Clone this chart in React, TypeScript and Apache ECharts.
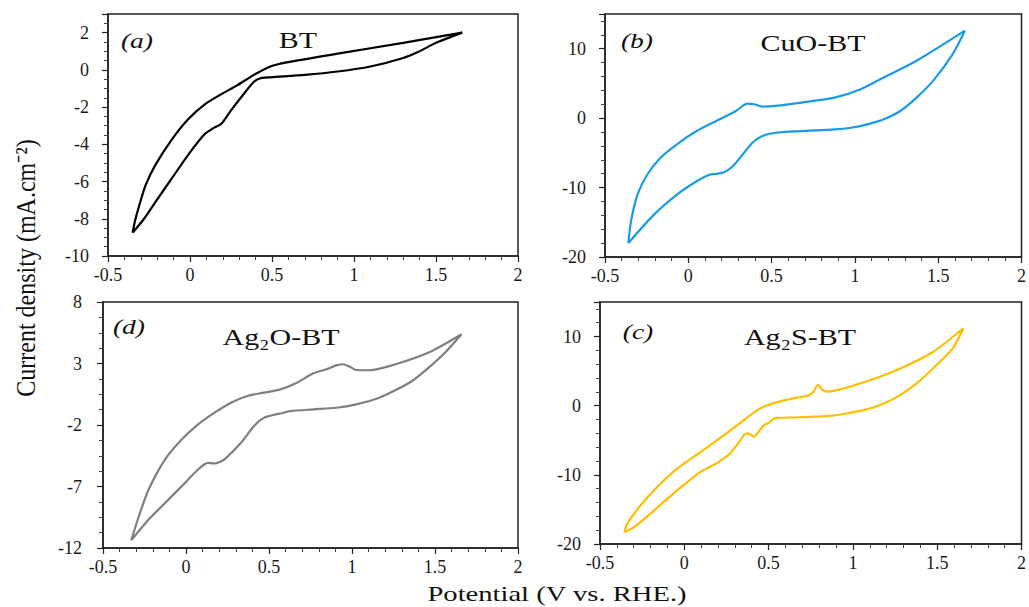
import React, { useEffect, useRef } from "react";
import * as echarts from "echarts";

// ---------- data (potential V vs RHE, current density mA/cm2) ----------
const btForward: number[][] = [
  [-0.35, -8.75], [-0.335, -8.1], [-0.31, -7.3], [-0.27, -6.18], [-0.21, -5.09],
  [-0.11, -3.73], [-0.01, -2.64], [0.09, -1.85], [0.19, -1.31], [0.29, -0.82],
  [0.39, -0.27], [0.49, 0.18], [0.59, 0.4], [0.9, 0.87], [1.3, 1.45], [1.66, 2.0],
];
const btReverse: number[][] = [
  [1.5, 1.45], [1.4, 1.0], [1.3, 0.64], [1.1, 0.18], [0.9, -0.09], [0.7, -0.27],
  [0.49, -0.4], [0.43, -0.45], [0.39, -0.64], [0.33, -1.27], [0.25, -2.18],
  [0.19, -2.91], [0.15, -3.09], [0.09, -3.45], [-0.01, -4.55], [-0.11, -5.82],
  [-0.21, -7.09], [-0.28, -8.0], [-0.35, -8.75],
];

const cuoForward: number[][] = [
  [-0.36, -18.0], [-0.344, -14.87], [-0.305, -11.01], [-0.246, -8.12], [-0.167, -5.71],
  [-0.068, -3.78], [0.05, -1.86], [0.188, -0.17], [0.286, 1.03], [0.326, 1.76],
  [0.355, 2.09], [0.395, 2.0], [0.444, 1.66], [0.523, 1.76], [0.68, 2.24],
  [0.878, 2.96], [1.035, 4.17], [1.173, 5.85], [1.37, 8.26], [1.66, 12.6],
];
const cuoReverse: number[][] = [
  [1.587, 9.23], [1.469, 5.37], [1.37, 2.96], [1.272, 1.03], [1.173, -0.17],
  [1.075, -0.89], [0.976, -1.38], [0.878, -1.62], [0.68, -1.86], [0.523, -2.1],
  [0.444, -2.58], [0.385, -3.54], [0.326, -5.23], [0.267, -6.92], [0.218, -7.74],
  [0.168, -8.03], [0.129, -8.12], [0.05, -9.09], [-0.068, -11.01], [-0.206, -13.9],
  [-0.36, -18.0],
];

const ag2oForward: number[][] = [
  [-0.33, -11.38], [-0.284, -9.42], [-0.225, -7.25], [-0.126, -4.8], [-0.026, -3.18],
  [0.073, -1.95], [0.172, -1.0], [0.271, -0.19], [0.37, 0.36], [0.47, 0.63],
  [0.569, 0.9], [0.668, 1.44], [0.767, 2.2], [0.847, 2.53], [0.906, 2.85],
  [0.946, 2.94], [0.985, 2.75], [1.025, 2.47], [1.104, 2.45], [1.263, 2.94],
  [1.462, 3.89], [1.66, 5.38],
];
const ag2oReverse: number[][] = [
  [1.561, 3.89], [1.462, 2.66], [1.362, 1.58], [1.263, 0.84], [1.164, 0.22],
  [1.025, -0.32], [0.906, -0.6], [0.767, -0.73], [0.628, -0.87], [0.589, -1.0],
  [0.47, -1.41], [0.41, -2.09], [0.331, -3.45], [0.231, -4.8], [0.172, -5.13],
  [0.132, -5.08], [0.073, -5.62], [-0.026, -6.98], [-0.126, -8.34], [-0.225, -9.69],
  [-0.33, -11.38],
];

const ag2sForward: number[][] = [
  [-0.355, -18.3], [-0.339, -17.09], [-0.26, -14.44], [-0.162, -11.79], [-0.044, -9.14],
  [0.094, -6.73], [0.232, -4.32], [0.35, -2.15], [0.429, -0.71], [0.488, 0.02],
  [0.586, 0.74], [0.685, 1.22], [0.734, 1.46], [0.763, 1.95], [0.793, 3.01],
  [0.818, 2.33], [0.842, 2.04], [0.921, 2.33], [1.078, 3.49], [1.275, 5.32],
  [1.472, 7.73], [1.655, 11.2],
];
const ag2sReverse: number[][] = [
  [1.59, 8.21], [1.472, 5.32], [1.374, 3.15], [1.275, 1.46], [1.177, 0.26],
  [1.078, -0.56], [0.98, -1.04], [0.882, -1.43], [0.685, -1.67], [0.547, -1.77],
  [0.527, -1.95], [0.5, -2.5], [0.478, -2.75], [0.455, -3.3], [0.43, -4.1],
  [0.413, -4.5], [0.395, -4.2], [0.375, -4.0], [0.355, -4.2], [0.33, -5.1],
  [0.271, -6.9], [0.192, -8.3], [0.094, -9.6], [-0.005, -11.5], [-0.103, -13.5],
  [-0.201, -15.6], [-0.3, -17.6], [-0.355, -18.3],
];

const panelNames = ["BT", "CuO-BT", "Ag₂O-BT", "Ag₂S-BT"];
const panelTags = ["(a)", "(b)", "(d)", "(c)"];
const xTickLabels = [-0.5, 0, 0.5, 1, 1.5, 2];
const ag2oYTicks = [-12, -7, -2, 3, 8];
const ag2oYMinorTicks = [
  -10.75, -9.5, -8.25, -5.75, -4.5, -3.25, -0.75, 0.5, 1.75, 4.25, 5.5, 6.75,
];
const xTitle = "Potential (V vs. RHE.)";
const yTitle = "Current density (mA.cm⁻²)";

// ---------- styles / layout ----------
const FONT = '"Liberation Serif", serif';
const COLORS = ["#000000", "#1a9be6", "#7f7f7f", "#ffbf00"];
const GRIDS = [
  { left: 108, top: 14, width: 410, height: 242 },
  { left: 605, top: 14, width: 421, height: 243 },
  { left: 103, top: 302, width: 415, height: 246 },
  { left: 600, top: 302, width: 422, height: 242 },
];
const TAG_POS = [[137, 40], [637, 40], [129, 326], [638, 331]];
const NAME_POS = [[298, 40], [813, 43], [281, 337], [800, 337]];

export default function App() {
  const ref = useRef<HTMLDivElement>(null);

  useEffect(() => {
    if (!ref.current) return;
    const chart = echarts.init(ref.current, undefined, { renderer: "svg" });

    const axisLine = { show: true, onZero: false, lineStyle: { color: "#222", width: 1.5 } };
    const tickText = {
      fontFamily: "Liberation Serif",
      fontSize: 18,
      color: "#1a1a1a",
    };
    const labelStyle = {
      show: true,
      ...tickText,
      formatter: (v: number) => `{t|${v}}`,
      rich: { t: { ...tickText } },
    };
    const majorTick = { show: true, inside: false, length: 6, lineStyle: { color: "#222", width: 1.2 } };
    const minorStyle = { color: "#444", width: 1 };

    const xAxes = GRIDS.map((_, i) => ({
      type: "value",
      gridIndex: i,
      min: xTickLabels[0],
      max: xTickLabels[xTickLabels.length - 1],
      interval: 0.5,
      axisLine,
      axisTick: majorTick,
      minorTick: { show: true, splitNumber: 5, length: 4, lineStyle: minorStyle },
      splitLine: { show: false },
      minorSplitLine: { show: false },
      axisLabel: { ...labelStyle, margin: 10 },
    }));

    const yBase = (i: number) => ({
      type: "value",
      gridIndex: i,
      axisLine,
      axisTick: majorTick,
      splitLine: { show: false },
      minorSplitLine: { show: false },
      axisLabel: { ...labelStyle, margin: 19, showMaxLabel: false },
    });

    const yAxes: any[] = [
      { ...yBase(0), min: -10, max: 3, interval: 2,
        minorTick: { show: true, splitNumber: 4, length: 4, lineStyle: minorStyle } },
      { ...yBase(1), min: -20, max: 15, interval: 10,
        minorTick: { show: true, splitNumber: 5, length: 4, lineStyle: minorStyle } },
      { ...yBase(2), min: -12, max: 8,
        axisTick: { ...majorTick, customValues: ag2oYTicks },
        axisLabel: { ...labelStyle, margin: 21, customValues: ag2oYTicks } },
      { ...yBase(3), min: -20, max: 15, interval: 10,
        minorTick: { show: true, splitNumber: 5, length: 4, lineStyle: minorStyle } },
      { type: "value", gridIndex: 2, min: -12, max: 8, position: "left",
        axisLine: { show: false, onZero: false }, axisLabel: { show: false }, splitLine: { show: false },
        axisTick: { show: true, length: 4, customValues: ag2oYMinorTicks, lineStyle: minorStyle } },
    ];

    const seriesData = [
      [...btForward, ...btReverse],
      [...cuoForward, ...cuoReverse],
      [...ag2oForward, ...ag2oReverse],
      [...ag2sForward, ...ag2sReverse],
    ];

    const series = seriesData.map((d, i) => ({
      type: "line",
      name: panelNames[i],
      xAxisIndex: i,
      yAxisIndex: i,
      data: d,
      showSymbol: false,
      smooth: 0.25,
      lineStyle: { color: COLORS[i], width: 2.2 },
      itemStyle: { color: COLORS[i] },
    }));

    const textEl = (text: string, x: number, y: number, font: string, extra: any = {}) => ({
      type: "text",
      x,
      y,
      scaleX: 1.25,
      ...extra,
      style: {
        text,
        fill: "#111",
        font,
        align: "center",
        verticalAlign: "middle",
        textAlign: "center",
        textVerticalAlign: "middle",
      },
    });

    const graphics: any[] = [];
    panelTags.forEach((t, i) => {
      graphics.push(textEl(t, TAG_POS[i][0], TAG_POS[i][1], `italic 22px ${FONT}`));
      graphics.push(textEl(panelNames[i], NAME_POS[i][0], NAME_POS[i][1], `24px ${FONT}`));
    });
    graphics.push(textEl(xTitle, 557, 594, `22px ${FONT}`, { scaleX: 1.3 }));
    graphics.push(textEl(yTitle, 26, 268, `24px ${FONT}`, { scaleX: 1, scaleY: 1.15, rotation: Math.PI / 2 }));

    chart.setOption({
      animation: false,
      backgroundColor: "#ffffff",
      textStyle: { fontFamily: "Liberation Serif", fontSize: 18, color: "#111" },
      grid: GRIDS.map((g) => ({ ...g, show: true, borderColor: "#222", borderWidth: 1.5, backgroundColor: "transparent" })),
      xAxis: xAxes,
      yAxis: yAxes,
      series,
      graphic: graphics,
    });

    return () => chart.dispose();
  }, []);

  return (
    <div
      ref={ref}
      style={{ position: "fixed", left: 0, top: 0, width: 1029, height: 607, background: "#fff" }}
    />
  );
}
